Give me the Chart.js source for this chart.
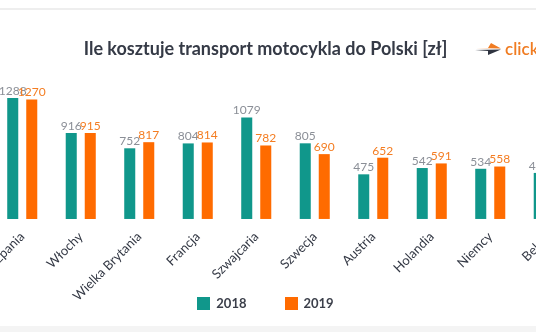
<!DOCTYPE html>
<html>
<head>
<meta charset="utf-8">
<script src="https://cdn.jsdelivr.net/npm/chart.js@4.4.0/dist/chart.umd.min.js"></script>
<style>
  html, body { margin: 0; padding: 0; background: #fff; }
  body { width: 536px; height: 332px; overflow: hidden; position: relative; font-family: Lato, sans-serif; }
  .topline { position: absolute; left: 0; top: 8px; width: 536px; height: 2px; background: #eeeeee; }
  .bottomband { position: absolute; left: 0; top: 326px; width: 536px; height: 6px; background: #f4f4f4; }
  #wrap { position: absolute; left: -70px; top: 10px; width: 670px; height: 316px; }
  .title { position: absolute; left: 0; top: 38px; width: 531px; text-align: center; font-size: 18px; line-height: 20px; font-weight: bold; color: #353a46; }
  .logo { position: absolute; left: 474px; top: 37px; white-space: nowrap; }
  .logo svg { vertical-align: middle; }
  .logo span { color: #f07c22; font-size: 17px; font-weight: 600; vertical-align: middle; margin-left: 3px; }
  .legend { position: absolute; left: 0; top: 295px; width: 531px; display: flex; justify-content: center; gap: 38px; }
  .legend .item { display: flex; align-items: center; font-size: 13px; font-weight: bold; color: #3b3f4a; }
  .legend .box { width: 13px; height: 13px; margin-right: 6px; }
</style>
</head>
<body>
<div class="topline"></div>
<div class="bottomband"></div>
<div id="wrap"><canvas id="chart" width="670" height="316"></canvas></div>
<div class="title">Ile kosztuje transport motocykla do Polski [zł]</div>
<div class="logo">
  <svg width="28" height="14" viewBox="0 0 28 14">
    <polygon points="2,6 14,6 17,1 27,6.5" fill="#f07c22"/>
    <polygon points="1,8 27,7.5 14,13 14,9" fill="#2f3440"/>
  </svg><span>clicktrans</span>
</div>
<div class="legend" id="legend"></div>
<script>
// Countries (the picture is cropped at both edges)
const countries = ['Hiszpania', 'Włochy', 'Wielka Brytania', 'Francja', 'Szwajcaria',
                   'Szwecja', 'Austria', 'Holandia', 'Niemcy', 'Belgia'];
const seriesNames = ['2018', '2019'];
const values2018 = [1288, 916, 752, 804, 1079, 805, 475, 542, 534, 490];
const values2019 = [1270, 915, 817, 814, 782, 690, 652, 591, 558, 540];

const barColors = ['#10978b', '#ff6b00'];
const labelColors = ['#8b8f97', '#f47d22'];

// numbers above the bars
const valueLabels = {
    id: 'valueLabels',
    afterDatasetsDraw(chart) {
        const ctx = chart.ctx;
        chart.data.datasets.forEach((ds, i) => {
            chart.getDatasetMeta(i).data.forEach((bar, j) => {
                ctx.save();
                ctx.fillStyle = labelColors[i];
                ctx.font = '12px Lato';
                ctx.textAlign = 'center';
                ctx.textBaseline = 'bottom';
                ctx.fillText(ds.data[j], bar.x, bar.y - 1);
                ctx.restore();
            });
        });
    }
};

new Chart(document.getElementById('chart'), {
    type: 'bar',
    data: {
        labels: countries,
        datasets: [
            {label: seriesNames[0], data: values2018, backgroundColor: barColors[0]},
            {label: seriesNames[1], data: values2019, backgroundColor: barColors[1]}
        ]
    },
    options: {
        responsive: false,
        animation: false,
        devicePixelRatio: 1,
        layout: {padding: {left: 63, right: 22, top: 68, bottom: 20}},
        datasets: {bar: {categoryPercentage: 0.65, barPercentage: 0.58}},
        plugins: {
            legend: {display: false},
            tooltip: {enabled: false}
        },
        scales: {
            x: {
                grid: {display: false},
                border: {display: false},
                ticks: {
                    color: '#333844',
                    font: {family: 'Lato', size: 13},
                    maxRotation: 45,
                    minRotation: 45,
                    padding: 2
                }
            },
            y: {display: false, min: 0, max: 1500}
        }
    },
    plugins: [valueLabels]
});

// legend built from the same series
const legend = document.getElementById('legend');
seriesNames.forEach((name, i) => {
    const item = document.createElement('div');
    item.className = 'item';
    item.innerHTML = `<div class="box" style="background:${barColors[i]}"></div>${name}`;
    legend.appendChild(item);
});
</script>
</body>
</html>
